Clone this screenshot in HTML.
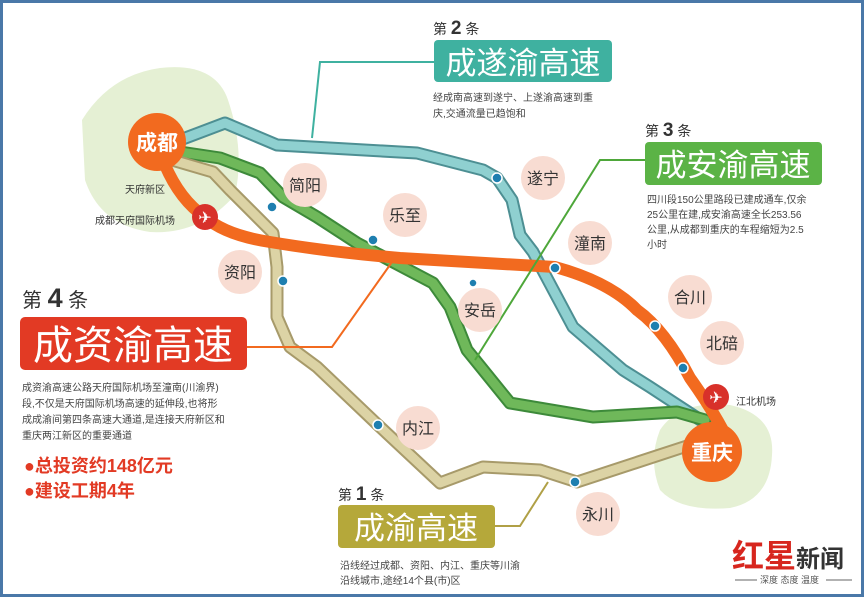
<!DOCTYPE html>
<html><head><meta charset="utf-8"><style>
body{margin:0;background:#fff}
svg{display:block}
text{font-family:"Liberation Sans","Noto Sans CJK SC",sans-serif}
</style></head><body>
<svg width="864" height="597" viewBox="0 0 864 597" xmlns="http://www.w3.org/2000/svg">
<rect x="0" y="0" width="864" height="597" fill="#fff"/>
<rect x="1.5" y="1.5" width="861" height="594" fill="none" stroke="#4a78a8" stroke-width="3"/>
<!-- green blobs -->
<path d="M82 120 Q110 75 160 68 Q215 62 228 100 Q245 150 235 195 Q200 235 150 232 Q100 225 85 180 Z" fill="#e5f0d4"/>
<path d="M660 430 Q680 400 730 405 Q775 415 772 455 Q770 500 730 508 Q680 512 660 490 Q648 460 660 430 Z" fill="#e5f0d4"/>
<!-- routes -->
<g fill="none" stroke-linejoin="round" stroke-linecap="round">
<g id="teal"><path d="M180 140 L225 123 L277 145 L417 153 L483 170 L497 178 L512 200 L520 235 L533 252 L573 327 L623 370 L650 387 L705 423" stroke="#4d8f93" stroke-width="13"/>
<path d="M180 140 L225 123 L277 145 L417 153 L483 170 L497 178 L512 200 L520 235 L533 252 L573 327 L623 370 L650 387 L705 423" stroke="#8fd0d0" stroke-width="9"/></g>
<path d="M180 152 L220 158 L260 173 L283 197 L317 217 L357 243 L433 283 L450 307 L467 350 L510 403 L593 417 L677 412 L705 420" stroke="#3d8a3a" stroke-width="13"/>
<path d="M180 152 L220 158 L260 173 L283 197 L317 217 L357 243 L433 283 L450 307 L467 350 L510 403 L593 417 L677 412 L705 420" stroke="#6fb85a" stroke-width="9"/>
<path d="M172 160 L213 172 L230 190 L250 210 L273 233 L277 267 L277 317 L290 347 L317 367 L378 425 L440 483 L483 467 L540 470 L577 482 L690 445" stroke="#a79a6a" stroke-width="13"/>
<path d="M172 160 L213 172 L230 190 L250 210 L273 233 L277 267 L277 317 L290 347 L317 367 L378 425 L440 483 L483 467 L540 470 L577 482 L690 445" stroke="#dcd3a5" stroke-width="9"/>
<path d="M165 165 Q180 200 205 217 Q225 235 270 242 Q330 252 400 258 L555 267 Q610 282 637 310 Q665 330 690 378 Q720 420 735 455" stroke="#f26a1f" stroke-width="12"/>
</g>
<!-- connector lines -->
<g fill="none" stroke-width="2">
<polyline points="434,62 320,62 312,138" stroke="#3fb1a0"/>
<polyline points="645,160 600,160 475,360" stroke="#4ea73a"/>
<polyline points="247,347 332,347 392,262" stroke="#f26a1f"/>
<polyline points="495,526 520,526 548,482" stroke="#b0a046"/>
</g>
<!-- dots -->
<g fill="#1e7fb0" stroke="#fff" stroke-width="1.5">
<circle cx="497" cy="178" r="5"/><circle cx="272" cy="207" r="5"/><circle cx="373" cy="240" r="5"/>
<circle cx="283" cy="281" r="5"/><circle cx="555" cy="268" r="5"/><circle cx="473" cy="283" r="4"/>
<circle cx="655" cy="326" r="5"/><circle cx="683" cy="368" r="5"/><circle cx="378" cy="425" r="5"/><circle cx="575" cy="482" r="5"/>
</g>
<!-- pink city bubbles -->
<g fill="#f8dcd2">
<circle cx="305" cy="185" r="22"/><circle cx="405" cy="215" r="22"/><circle cx="240" cy="272" r="22"/>
<circle cx="543" cy="178" r="22"/><circle cx="590" cy="243" r="22"/><circle cx="480" cy="310" r="22"/>
<circle cx="690" cy="297" r="22"/><circle cx="722" cy="343" r="22"/><circle cx="418" cy="428" r="22"/><circle cx="598" cy="514" r="22"/>
</g>
<g font-size="16" fill="#333" text-anchor="middle">
<text x="305" y="191">简阳</text><text x="405" y="221">乐至</text><text x="240" y="278">资阳</text>
<text x="543" y="184">遂宁</text><text x="590" y="249">潼南</text><text x="480" y="316">安岳</text>
<text x="690" y="303">合川</text><text x="722" y="349">北碚</text><text x="418" y="434">内江</text><text x="598" y="520">永川</text>
</g>
<!-- cities -->
<circle cx="157" cy="142" r="29" fill="#f26a1f"/>
<text x="157" y="150" font-size="21" font-weight="bold" fill="#fff" text-anchor="middle">成都</text>
<circle cx="712" cy="452" r="30" fill="#f26a1f"/>
<text x="712" y="460" font-size="21" font-weight="bold" fill="#fff" text-anchor="middle">重庆</text>
<!-- airports -->
<circle cx="205" cy="217" r="13" fill="#d8312a"/><text x="205" y="223" font-size="16" fill="#fff" text-anchor="middle">✈</text>
<circle cx="716" cy="397" r="13" fill="#d8312a"/><text x="716" y="403" font-size="16" fill="#fff" text-anchor="middle">✈</text>
<g font-size="10" fill="#333">
<text x="125" y="193">天府新区</text><text x="95" y="224">成都天府国际机场</text><text x="736" y="405">江北机场</text>
</g>
<!-- box 2 -->
<text x="433" y="34" font-size="14" fill="#333">第 <tspan font-size="19" font-weight="bold">2</tspan> 条</text>
<rect x="434" y="40" width="178" height="42" rx="4" fill="#3fb1a0"/>
<text x="523" y="74" font-size="31" fill="#fff" text-anchor="middle">成遂渝高速</text>
<g font-size="10" fill="#444"><text x="433" y="101">经成南高速到遂宁、上遂渝高速到重</text><text x="433" y="117">庆,交通流量已趋饱和</text></g>
<!-- box 3 -->
<text x="645" y="136" font-size="14" fill="#333">第 <tspan font-size="19" font-weight="bold">3</tspan> 条</text>
<rect x="645" y="142" width="177" height="43" rx="4" fill="#5bb346"/>
<text x="733" y="176" font-size="31" fill="#fff" text-anchor="middle">成安渝高速</text>
<g font-size="10" fill="#444"><text x="647" y="203">四川段150公里路段已建成通车,仅余</text><text x="647" y="218">25公里在建,成安渝高速全长253.56</text><text x="647" y="233">公里,从成都到重庆的车程缩短为2.5</text><text x="647" y="248">小时</text></g>
<!-- box 4 -->
<text x="22" y="307" font-size="20" fill="#333">第 <tspan font-size="27" font-weight="bold">4</tspan> 条</text>
<rect x="20" y="317" width="227" height="53" rx="5" fill="#e23a24"/>
<text x="133" y="359" font-size="40" fill="#fff" text-anchor="middle">成资渝高速</text>
<g font-size="10" fill="#444"><text x="22" y="391">成资渝高速公路天府国际机场至潼南(川渝界)</text><text x="22" y="407">段,不仅是天府国际机场高速的延伸段,也将形</text><text x="22" y="423">成成渝间第四条高速大通道,是连接天府新区和</text><text x="22" y="439">重庆两江新区的重要通道</text></g>
<g font-size="18" font-weight="bold" fill="#e23a24"><text x="24" y="472">●总投资约148亿元</text><text x="24" y="497">●建设工期4年</text></g>
<!-- box 1 -->
<text x="338" y="500" font-size="14" fill="#333">第 <tspan font-size="19" font-weight="bold">1</tspan> 条</text>
<rect x="338" y="505" width="157" height="43" rx="4" fill="#b5a83a"/>
<text x="416" y="539" font-size="31" fill="#fff" text-anchor="middle">成渝高速</text>
<g font-size="10" fill="#444"><text x="340" y="569">沿线经过成都、资阳、内江、重庆等川渝</text><text x="340" y="584">沿线城市,途经14个县(市)区</text></g>
<!-- logo -->
<text x="732" y="567" font-size="32" font-weight="bold" fill="#d7261e">红星<tspan fill="#333" font-size="24">新闻</tspan></text>
<line x1="735" y1="580" x2="757" y2="580" stroke="#666" stroke-width="1"/>
<text x="760" y="583" font-size="9" fill="#555">深度 态度 温度</text>
<line x1="826" y1="580" x2="852" y2="580" stroke="#666" stroke-width="1"/>
</svg>
</body></html>
